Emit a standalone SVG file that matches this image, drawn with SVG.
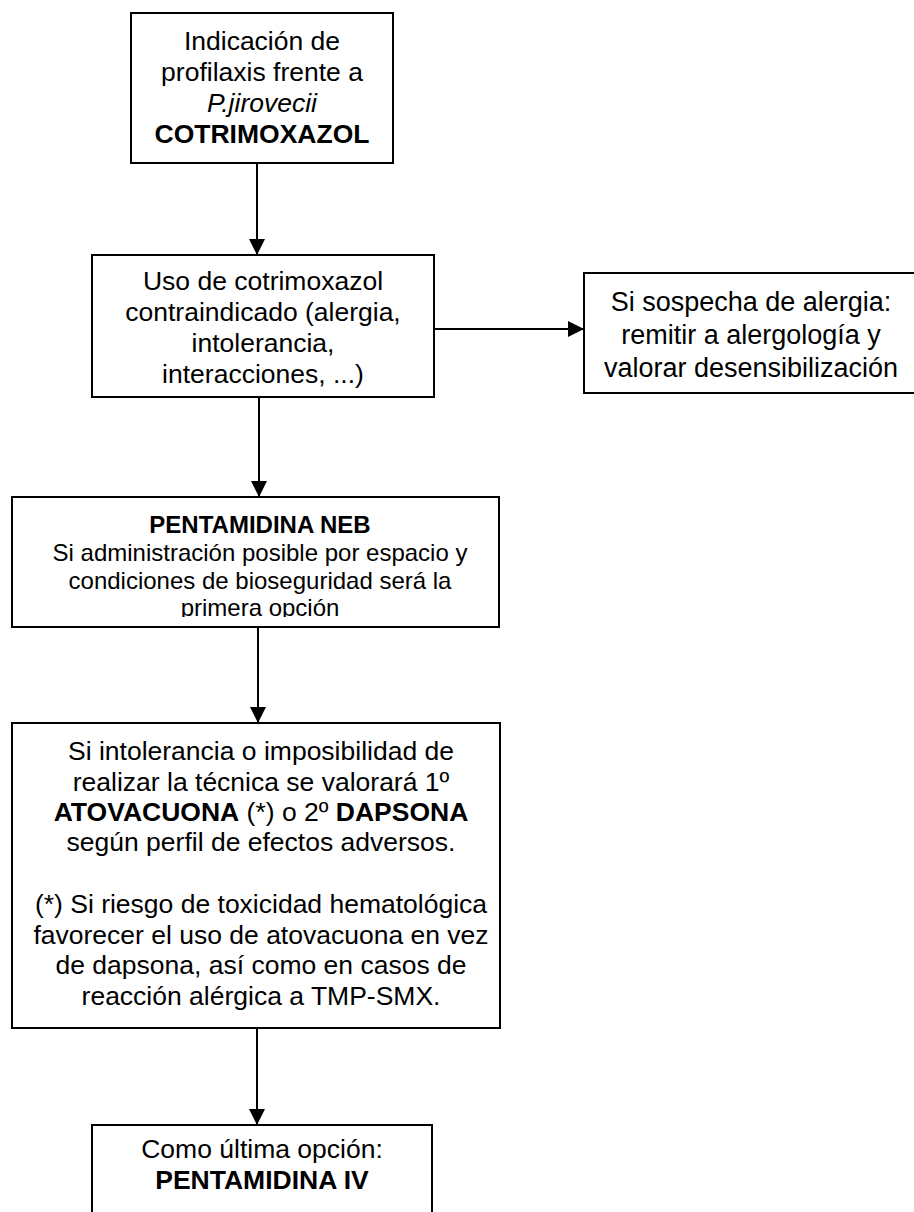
<svg xmlns="http://www.w3.org/2000/svg" width="914" height="1212" viewBox="0 0 914 1212">
<style>
.box{fill:#fff;stroke:#000;stroke-width:2}
.t{font-family:"Liberation Sans",Arial,sans-serif;font-size:26.5px;fill:#000;text-anchor:middle}
.s{font-size:24px}
.m{font-size:27px}
.b{font-weight:bold}
.i{font-style:italic}
.c{fill:none;stroke:#000;stroke-width:2}
</style>
<defs>
<marker id="ah" markerUnits="userSpaceOnUse" markerWidth="16" markerHeight="16" refX="15" refY="8" orient="auto">
<path d="M0,0 L16,8 L0,16 z" fill="#000"/>
</marker>
<clipPath id="clip4"><rect x="0" y="490" width="520" height="127"/></clipPath>
</defs>
<rect width="914" height="1212" fill="#fff"/>
<g id="connectors">
<path class="c" d="M257,163 V254" marker-end="url(#ah)"/>
<path class="c" d="M435,329 H583" marker-end="url(#ah)"/>
<path class="c" d="M259,397 V496" marker-end="url(#ah)"/>
<path class="c" d="M258,627 V722" marker-end="url(#ah)"/>
<path class="c" d="M257,1028 V1124" marker-end="url(#ah)"/>
</g>
<g id="n1">
<rect class="box" x="131" y="13" width="262" height="150"/>
<text class="t" x="262" y="50">Indicación de</text>
<text class="t" x="262" y="81">profilaxis frente a</text>
<text class="t i" x="262" y="112">P.jirovecii</text>
<text class="t b" x="262" y="143">COTRIMOXAZOL</text>
</g>
<g id="n2">
<rect class="box" x="92" y="255" width="342" height="142"/>
<text class="t" x="263" y="290">Uso de cotrimoxazol</text>
<text class="t" x="263" y="321">contraindicado (alergia,</text>
<text class="t" x="263" y="352">intolerancia,</text>
<text class="t" x="263" y="383">interacciones, ...)</text>
</g>
<g id="n3">
<rect class="box" x="584" y="273" width="332" height="120"/>
<text class="t m" x="751" y="311">Si sospecha de alergia:</text>
<text class="t m" x="751" y="344">remitir a alergología y</text>
<text class="t m" x="751" y="377">valorar desensibilización</text>
</g>
<g id="n4">
<rect class="box" x="12" y="497" width="487" height="130"/>
<g clip-path="url(#clip4)">
<text class="t s b" x="260" y="533">PENTAMIDINA NEB</text>
<text class="t s" x="260" y="561">Si administración posible por espacio y</text>
<text class="t s" x="260" y="589">condiciones de bioseguridad será la</text>
<text class="t s" x="260" y="616">primera opción</text>
</g>
</g>
<g id="n5">
<rect class="box" x="12" y="723" width="488" height="305"/>
<text class="t" x="261" y="760">Si intolerancia o imposibilidad de</text>
<text class="t" x="261" y="791">realizar la técnica se valorará 1º</text>
<text class="t" x="261" y="821"><tspan class="b">ATOVACUONA</tspan> (*) o 2º <tspan class="b">DAPSONA</tspan></text>
<text class="t" x="261" y="851">según perfil de efectos adversos.</text>
<text class="t" x="261" y="913">(*) Si riesgo de toxicidad hematológica</text>
<text class="t" x="261" y="944">favorecer el uso de atovacuona en vez</text>
<text class="t" x="261" y="974">de dapsona, así como en casos de</text>
<text class="t" x="261" y="1005">reacción alérgica a TMP-SMX.</text>
</g>
<g id="n6">
<rect class="box" x="92" y="1125" width="340" height="100"/>
<text class="t" x="262" y="1158">Como última opción:</text>
<text class="t b" x="262" y="1189">PENTAMIDINA IV</text>
</g>
</svg>
